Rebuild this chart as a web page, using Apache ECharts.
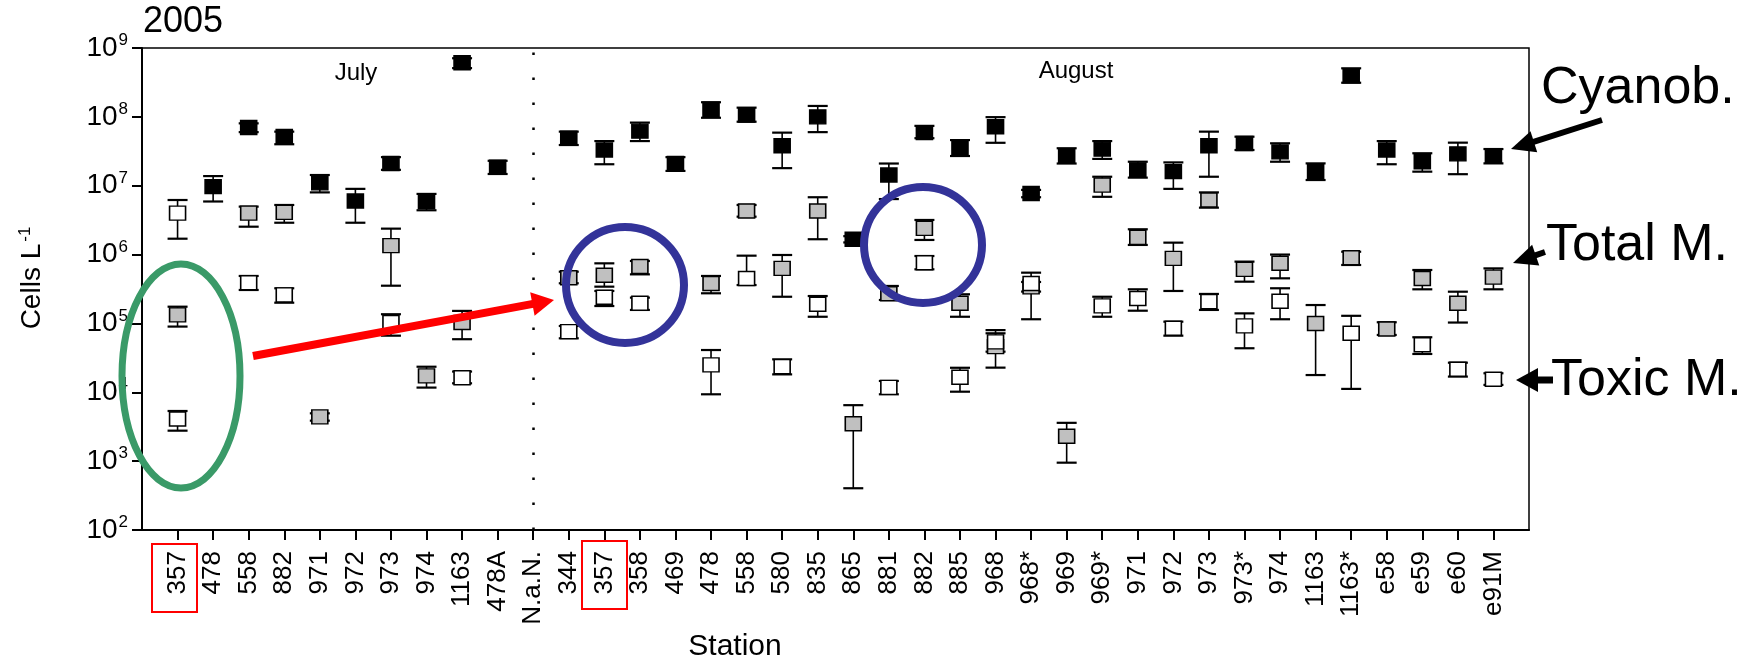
<!DOCTYPE html>
<html>
<head>
<meta charset="utf-8">
<script src="https://cdn.jsdelivr.net/npm/echarts@6/dist/echarts.min.js"></script>
<style>
  html, body { margin: 0; padding: 0; background: #fff; }
  #chart { width: 1754px; height: 661px; }
</style>
</head>
<body>
<div id="chart"></div>
<script>
const FONT = "'Liberation Sans', Arial, sans-serif";

// stations along the x axis
const stations = ['357', '478', '558', '882', '971', '972', '973', '974', '1163', '478A', 'N.a.N.',
  '344', '357', '358', '469', '478', '558', '580', '835', '865', '881', '882', '885', '968', '968*',
  '969', '969*', '971', '972', '973', '973*', '974', '1163', '1163*', 'e58', 'e59', 'e60', 'e91M'];

// Cyanob. (cells per litre), with lower / upper error ends
const cyanoVal = [4.0e6, 9.7e6, 7.0e7, 5.2e7, 1.1e7, 6.0e6, 2.1e7, 5.9e6, 6.1e8, 1.85e7, null,
  4.9e7, 3.3e7, 6.2e7, 2.1e7, 1.29e8, 1.06e8, 3.8e7, 1.0e8, 1.67e6, 1.43e7, 5.9e7, 3.6e7, 7.2e7, 7.7e6,
  2.7e7, 3.4e7, 1.69e7, 1.6e7, 3.8e7, 4.1e7, 3.1e7, 1.6e7, 3.96e8, 3.3e7, 2.23e7, 2.9e7, 2.73e7];
const cyanoLow = [1.7e6, 5.9e6, 6.0e7, 4.0e7, 8.0e6, 2.9e6, 1.7e7, 4.4e6, 5.1e8, 1.48e7, null,
  3.9e7, 2.05e7, 4.45e7, 1.64e7, 9.7e7, 8.5e7, 1.8e7, 6.0e7, 1.5e6, 6.4e6, 4.9e7, 2.7e7, 4.2e7, 6.8e6,
  2.1e7, 2.45e7, 1.31e7, 9.0e6, 1.35e7, 3.3e7, 2.23e7, 1.21e7, 3.13e8, 2.05e7, 1.6e7, 1.47e7, 2.11e7];
const cyanoHigh = [6.2e6, 1.38e7, 8.05e7, 6.1e7, 1.43e7, 9.0e6, 2.6e7, 7.6e6, 7.1e8, 2.3e7, null,
  6.1e7, 4.45e7, 8.25e7, 2.6e7, 1.63e8, 1.36e8, 5.9e7, 1.44e8, 1.85e6, 2.1e7, 7.4e7, 4.6e7, 9.9e7, 8.7e6,
  3.5e7, 4.45e7, 2.23e7, 2.18e7, 6.1e7, 5.15e7, 4.13e7, 2.11e7, 5.07e8, 4.45e7, 2.96e7, 4.22e7, 3.41e7];

// Total M.
const totalVal = [1.33e5, null, 4.0e6, 4.1e6, 4.4e3, null, 1.35e6, 1.73e4, 1.03e5, null, null,
  4.6e5, 5.0e5, 6.7e5, null, 3.8e5, 4.3e6, 6.3e5, 4.3e6, 3.5e3, 2.7e5, 2.4e6, 1.96e5, 4.6e4, 3.4e5,
  2.3e3, 1.02e7, 1.78e6, 8.8e5, 6.2e6, 6.1e5, 7.5e5, 1.0e5, 9.0e5, 8.3e4, 4.5e5, 1.96e5, 4.7e5];
const totalLow = [9.0e4, null, 2.54e6, 2.9e6, 3.87e3, null, 3.53e5, 1.17e4, 5.9e4, null, null,
  3.83e5, 3.42e5, 5.16e5, null, 2.74e5, 3.55e6, 2.44e5, 1.67e6, 4.04e2, 2.19e5, 1.63e6, 1.25e5, 2.28e4, 2.9e5,
  9.5e2, 6.9e6, 1.38e6, 2.96e5, 4.8e6, 4.04e5, 4.52e5, 1.78e4, 7.06e5, 6.8e4, 3.13e5, 1.03e5, 3.13e5];
const totalHigh = [1.75e5, null, 4.97e6, 5.25e6, 4.95e3, null, 2.38e6, 2.35e4, 1.52e5, null, null,
  5.64e5, 7.46e5, 8.07e5, null, 4.89e5, 5.25e6, 9.86e5, 6.8e6, 6.5e3, 3.5e5, 3.18e6, 2.65e5, 8.0e4, 4.0e5,
  3.6e3, 1.35e7, 2.33e6, 1.49e6, 8.0e6, 7.9e5, 1.0e6, 1.85e5, 1.1e6, 1.04e5, 5.97e5, 2.89e5, 6.3e5];

// Toxic M.
const toxicVal = [4.1e3, null, 3.9e5, 2.6e5, null, null, 1.03e5, null, 1.63e4, null, null,
  7.6e4, 2.4e5, 1.96e5, null, 2.5e4, 4.5e5, 2.36e4, 1.9e5, null, 1.18e4, 7.6e5, 1.65e4, 5.4e4, 3.8e5,
  null, 1.8e5, 2.3e5, 8.5e4, 2.07e5, 9.2e4, 2.1e5, null, 7.2e4, null, 4.9e4, 2.16e4, 1.55e4];
const toxicLow = [2.77e3, null, 3.06e5, 2.0e5, null, null, 6.64e4, null, 1.35e4, null, null,
  6.08e4, 1.79e5, 1.57e5, null, 9.35e3, 3.61e5, 1.82e4, 1.25e5, null, 9.35e3, 6.11e5, 1.02e4, 3.89e4, 1.15e5,
  null, 1.25e5, 1.53e5, 6.64e4, 1.57e5, 4.36e4, 1.15e5, null, 1.12e4, null, 3.6e4, 1.69e4, 1.28e4];
const toxicHigh = [5.35e3, null, 4.89e5, 3.24e5, null, null, 1.36e5, null, 2.0e4, null, null,
  9.18e4, 2.96e5, 2.37e5, null, 4.11e4, 9.64e5, 3.01e4, 2.5e5, null, 1.46e4, 9.53e5, 2.27e4, 7.19e4, 5.46e5,
  null, 2.44e5, 3.13e5, 1.06e5, 2.68e5, 1.4e5, 3.24e5, null, 1.29e5, null, 6.3e4, 2.69e4, 1.89e4];

// y tick exponents
const yExponents = [2, 3, 4, 5, 6, 7, 8, 9];

// axis has an empty slot at each end
const axisCats = [''].concat(stations, ['']);

function points(vals) {
  const out = [];
  vals.forEach((v, i) => { if (v != null) out.push([i + 1, v]); });
  return out;
}
function bars(lo, hi) {
  const out = [];
  lo.forEach((v, i) => { if (v != null) out.push([i + 1, v, hi[i]]); });
  return out;
}

function errRender(params, api) {
  const x = api.value(0);
  const a = api.coord([x, api.value(1)]);
  const b = api.coord([x, api.value(2)]);
  const w = 10;
  const st = { stroke: '#000', lineWidth: 1.6 };
  const cap = { stroke: '#000', lineWidth: 2.2 };
  return {
    type: 'group',
    children: [
      { type: 'line', shape: { x1: a[0], y1: a[1], x2: b[0], y2: b[1] }, style: st },
      { type: 'line', shape: { x1: a[0] - w, y1: a[1], x2: a[0] + w, y2: a[1] }, style: cap },
      { type: 'line', shape: { x1: b[0] - w, y1: b[1], x2: b[0] + w, y2: b[1] }, style: cap }
    ]
  };
}

const cyanoPts = points(cyanoVal).map(p => p[0] === 1
  ? { value: p, itemStyle: { color: '#fff', borderColor: '#000', borderWidth: 1.5 } }
  : p);

function errSeries(lo, hi) {
  return {
    type: 'custom', renderItem: errRender, data: bars(lo, hi),
    encode: { x: 0, y: [1, 2] }, z: 1, silent: true, clip: false
  };
}
function dotSeries(pts, fill, extra) {
  return Object.assign({
    type: 'scatter', data: pts, symbol: 'rect', symbolSize: [16, 14], z: 3,
    itemStyle: { color: fill, borderColor: '#000', borderWidth: 1.5, opacity: 1 }
  }, extra || {});
}

const chart = echarts.init(document.getElementById('chart'));

// y is the vertical middle of the glyphs
const txt = (x, y, text, size, align) => ({
  type: 'text', x: x, y: y, z: 10,
  style: { text: text, font: size + 'px ' + FONT, fill: '#000', textAlign: align || 'left', textVerticalAlign: 'middle' }
});

function arrow(tail, tip, headLen, halfW, lineW, color) {
  const dx = tip[0] - tail[0], dy = tip[1] - tail[1];
  const len = Math.sqrt(dx * dx + dy * dy);
  const ux = dx / len, uy = dy / len, nx = -uy, ny = ux;
  const bx = tip[0] - ux * headLen, by = tip[1] - uy * headLen;
  return [
    { type: 'line', z: 10, shape: { x1: tail[0], y1: tail[1], x2: bx + ux * 2, y2: by + uy * 2 },
      style: { stroke: color, lineWidth: lineW } },
    { type: 'polygon', z: 10, shape: { points: [tip, [bx + nx * halfW, by + ny * halfW], [bx - nx * halfW, by - ny * halfW]] },
      style: { fill: color } }
  ];
}

chart.setOption({
  animation: false,
  backgroundColor: '#fff',
  grid: { left: 142, right: 225, top: 48, bottom: 131, show: true, borderColor: '#000', borderWidth: 1.5 },
  xAxis: {
    type: 'category', data: axisCats, boundaryGap: false,
    axisLine: { lineStyle: { color: '#000', width: 2 } },
    axisTick: { inside: false, length: 10, lineStyle: { color: '#000', width: 2 },
      interval: (i) => i > 0 && i < axisCats.length - 1 },
    axisLabel: { interval: 0, rotate: 90, margin: 21, fontSize: 26, fontFamily: FONT, color: '#000' },
    splitLine: { show: false }
  },
  yAxis: {
    type: 'log', logBase: 10, min: Math.pow(10, yExponents[0]), max: Math.pow(10, yExponents[yExponents.length - 1]),
    interval: 1,
    axisLine: { show: true, lineStyle: { color: '#000', width: 2 } },
    axisTick: { show: true, inside: false, length: 10, lineStyle: { color: '#000', width: 2 } },
    minorTick: { show: false },
    splitLine: { show: false },
    axisLabel: {
      margin: 14, color: '#000',
      formatter: v => '{b|10}{e|' + Math.round(Math.log10(v)) + '}',
      rich: {
        b: { fontSize: 28, fontFamily: FONT, color: '#000' },
        e: { fontSize: 17, fontFamily: FONT, color: '#000', padding: [0, 0, 15, 1] }
      }
    }
  },
  series: [
    errSeries(cyanoLow, cyanoHigh),
    errSeries(totalLow, totalHigh),
    errSeries(toxicLow, toxicHigh),
    dotSeries(cyanoPts, '#000', {
      markLine: {
        silent: true, symbol: 'none', animation: false,
        label: { show: false },
        lineStyle: { color: '#000', width: 2.5, type: [2.5, 22.5] },
        data: [{ xAxis: stations.indexOf('N.a.N.') + 1 }]
      }
    }),
    dotSeries(points(totalVal), '#c0c0c0'),
    dotSeries(points(toxicVal), '#fff', { z: 4 })
  ],
  graphic: [
    txt(143, 22, '2005', 36),
    txt(356, 73, 'July', 24, 'center'),
    txt(1076, 71, 'August', 24, 'center'),
    txt(735, 647, 'Station', 30, 'center'),
    {
      type: 'text', x: 32, y: 278, rotation: Math.PI / 2, z: 10,
      style: {
        text: '{m|Cells L}{s|-1}', textAlign: 'center', textVerticalAlign: 'middle',
        rich: {
          m: { fontSize: 28, fontFamily: FONT, fill: '#000' },
          s: { fontSize: 17, fontFamily: FONT, fill: '#000', padding: [0, 0, 14, 2] }
        }
      }
    },
    txt(1541, 89, 'Cyanob.', 52),
    txt(1546, 246, 'Total M.', 52),
    txt(1551, 381, 'Toxic M.', 52),
    { type: 'ellipse', z: 9, shape: { cx: 181, cy: 376, rx: 59, ry: 112 },
      style: { fill: 'none', stroke: '#3a9a68', lineWidth: 7 } },
    { type: 'ellipse', z: 9, shape: { cx: 625, cy: 285, rx: 59, ry: 58 },
      style: { fill: 'none', stroke: '#333399', lineWidth: 8 } },
    { type: 'ellipse', z: 9, shape: { cx: 923, cy: 245, rx: 59, ry: 58 },
      style: { fill: 'none', stroke: '#333399', lineWidth: 8 } },
    { type: 'rect', z: 9, shape: { x: 152, y: 544, width: 45, height: 68 },
      style: { fill: 'none', stroke: '#ff0000', lineWidth: 2 } },
    { type: 'rect', z: 9, shape: { x: 582, y: 541, width: 45, height: 68 },
      style: { fill: 'none', stroke: '#ff0000', lineWidth: 2 } }
  ].concat(
    arrow([253, 356], [554, 300], 22, 12, 8, '#ff0000'),
    arrow([1602, 120], [1511, 149], 24, 11, 6, '#000'),
    arrow([1545, 252], [1513, 263], 24, 11, 6, '#000'),
    arrow([1553, 380], [1516, 380], 22, 12, 7, '#000')
  )
});
</script>
</body>
</html>
